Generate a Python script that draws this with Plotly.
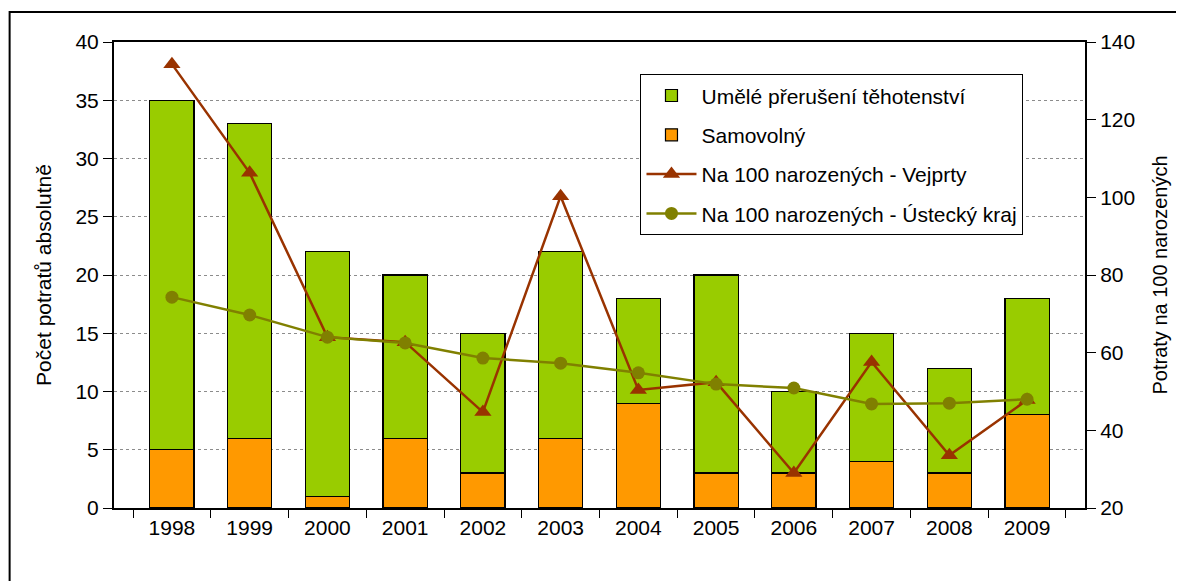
import plotly.graph_objects as go

years = ["1998", "1999", "2000", "2001", "2002", "2003",
         "2004", "2005", "2006", "2007", "2008", "2009"]
samovolny = [5, 6, 1, 6, 3, 6, 9, 3, 3, 4, 3, 8]
umele = [30, 27, 21, 14, 12, 16, 9, 17, 7, 11, 9, 10]
vejprty = [134.3, 106.3, 64.0, 62.7, 44.7, 100.3, 50.4, 52.4, 29.0, 57.6, 33.6, 47.8]
ustecky = [74.3, 69.7, 64.0, 62.5, 58.6, 57.3, 54.8, 51.9, 50.9, 46.8, 47.0, 48.0]

font = "Liberation Sans"

fig = go.Figure()

fig.add_bar(
    x=years, y=samovolny, name="Samovolný",
    marker=dict(color="#FF9900", line=dict(color="black", width=1.2)),
    width=0.57, legendrank=2, legendgroup="b",
)
fig.add_bar(
    x=years, y=umele, name="Umělé přerušení těhotenství",
    marker=dict(color="#99CC00", line=dict(color="black", width=1.2)),
    width=0.57, legendrank=1, legendgroup="a",
)
fig.add_scatter(
    x=years, y=vejprty, yaxis="y2", mode="lines+markers",
    name="Na 100 narozených - Vejprty",
    line=dict(color="#993300", width=2.5),
    marker=dict(symbol="triangle-up", size=15, color="#993300"),
    legendrank=3, legendgroup="c",
)
fig.add_scatter(
    x=years, y=ustecky, yaxis="y2", mode="lines+markers",
    name="Na 100 narozených - Ústecký kraj",
    line=dict(color="#808000", width=2.5),
    marker=dict(symbol="circle", size=13, color="#808000"),
    legendrank=4, legendgroup="d",
)

# outer frame of the original picture
fig.add_shape(
    type="path", xref="paper", yref="paper",
    path="M -0.1075,-0.3 L -0.1075,1.0644 L 1.2,1.0644",
    line=dict(color="black", width=2),
)

# page body adds an 8px offset; figure is shrunk so nothing scrolls
fig.update_layout(
    width=1176, height=573,
    margin=dict(l=106, r=99, t=34, b=73, autoexpand=False),
    barmode="stack",
    plot_bgcolor="white",
    paper_bgcolor="white",
    font=dict(family=font, size=21, color="black"),
    showlegend=True,
    legend=dict(
        x=0.542, y=0.931, xanchor="left", yanchor="top",
        bgcolor="white", bordercolor="black", borderwidth=1.2,
        font=dict(size=21), tracegroupgap=9, itemwidth=50,
        traceorder="grouped",
    ),
    xaxis=dict(
        type="category", tickson="boundaries", ticks="outside",
        ticklen=8, tickcolor="black", showline=True, linecolor="black",
        linewidth=2, mirror=True, showgrid=False, automargin=False,
        tickfont=dict(size=21),
    ),
    yaxis=dict(
        range=[0, 40], dtick=5, ticks="outside", ticklen=9,
        tickcolor="black", showline=True, linecolor="black", linewidth=2,
        showgrid=True, gridcolor="#8c8c8c", griddash="dot", gridwidth=1,
        zeroline=False, automargin=False,
        title=dict(text="Počet potratů absolutně", font=dict(size=21), standoff=18),
    ),
    yaxis2=dict(
        range=[20, 140], dtick=20, overlaying="y", side="right",
        ticks="outside", ticklen=9, tickcolor="black", showline=True,
        linecolor="black", linewidth=2, showgrid=False, zeroline=False,
        automargin=False,
        title=dict(text="Potraty na 100 narozených", font=dict(size=20), standoff=19),
    ),
)

fig.write_html("out.html")
